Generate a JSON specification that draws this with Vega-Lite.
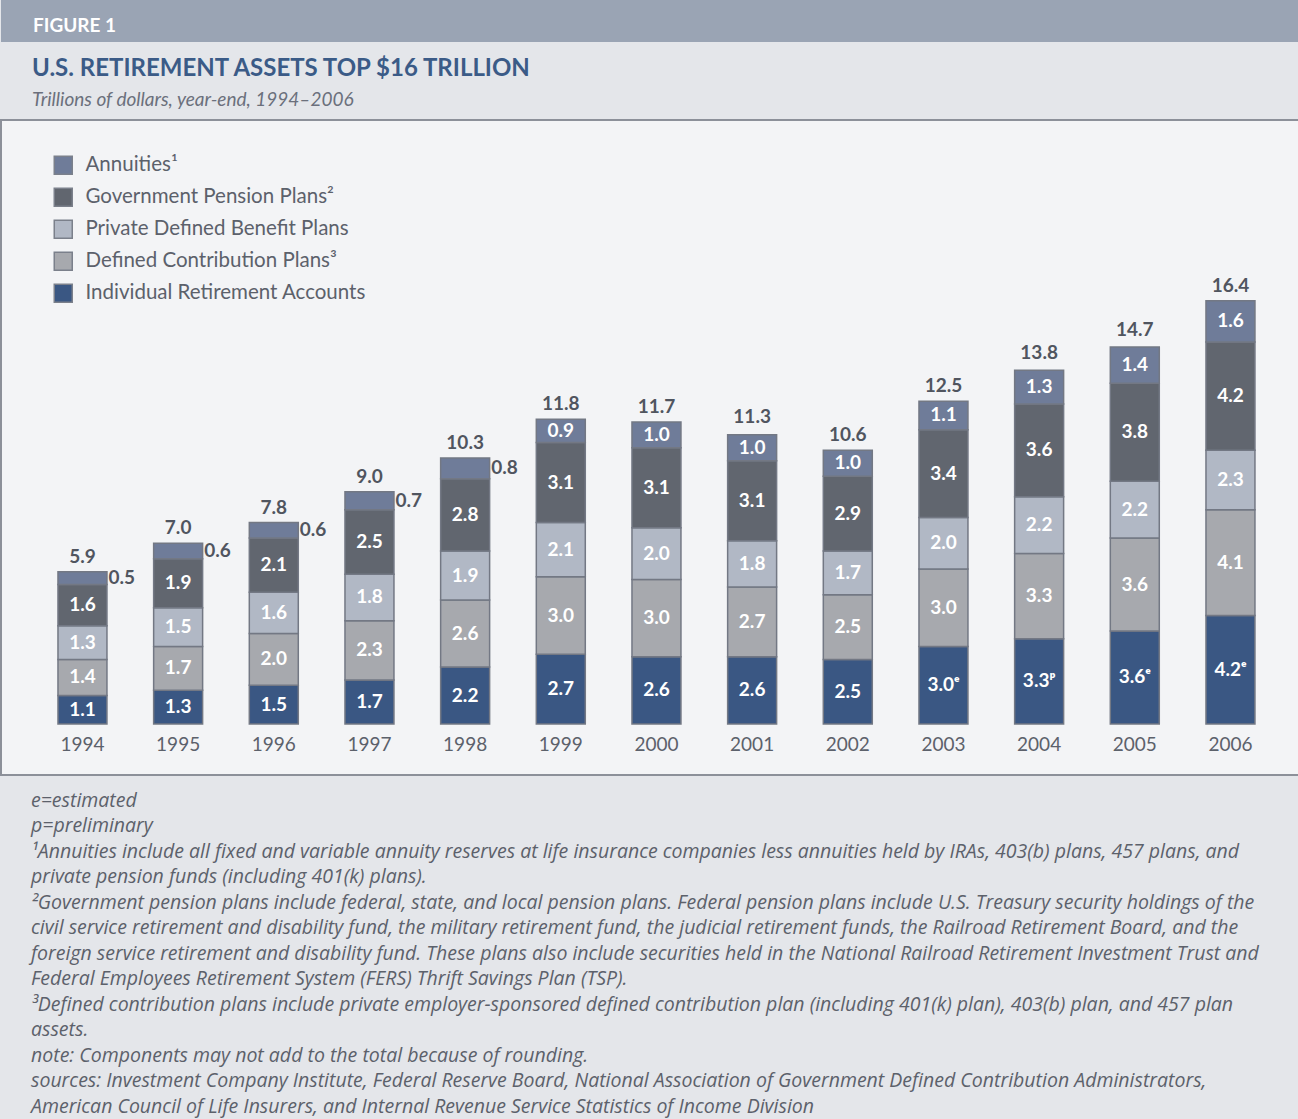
{
  "$schema": "https://vega.github.io/schema/vega-lite/v6.json",
  "background": "#e4e6ea",
  "padding": 0,
  "spacing": 14,
  "config": {"font": "Lato", "view": {"stroke": null}},
  "datasets": {
    "segments": [
      {"year": "1994", "series": "Individual Retirement Accounts", "order": 1, "value": 1.1, "label": "1.1"},
      {"year": "1994", "series": "Defined Contribution Plans³", "order": 2, "value": 1.4, "label": "1.4"},
      {"year": "1994", "series": "Private Defined Benefit Plans", "order": 3, "value": 1.3, "label": "1.3"},
      {"year": "1994", "series": "Government Pension Plans²", "order": 4, "value": 1.6, "label": "1.6"},
      {"year": "1994", "series": "Annuities¹", "order": 5, "value": 0.5, "label": "0.5"},
      {"year": "1995", "series": "Individual Retirement Accounts", "order": 1, "value": 1.3, "label": "1.3"},
      {"year": "1995", "series": "Defined Contribution Plans³", "order": 2, "value": 1.7, "label": "1.7"},
      {"year": "1995", "series": "Private Defined Benefit Plans", "order": 3, "value": 1.5, "label": "1.5"},
      {"year": "1995", "series": "Government Pension Plans²", "order": 4, "value": 1.9, "label": "1.9"},
      {"year": "1995", "series": "Annuities¹", "order": 5, "value": 0.6, "label": "0.6"},
      {"year": "1996", "series": "Individual Retirement Accounts", "order": 1, "value": 1.5, "label": "1.5"},
      {"year": "1996", "series": "Defined Contribution Plans³", "order": 2, "value": 2.0, "label": "2.0"},
      {"year": "1996", "series": "Private Defined Benefit Plans", "order": 3, "value": 1.6, "label": "1.6"},
      {"year": "1996", "series": "Government Pension Plans²", "order": 4, "value": 2.1, "label": "2.1"},
      {"year": "1996", "series": "Annuities¹", "order": 5, "value": 0.6, "label": "0.6"},
      {"year": "1997", "series": "Individual Retirement Accounts", "order": 1, "value": 1.7, "label": "1.7"},
      {"year": "1997", "series": "Defined Contribution Plans³", "order": 2, "value": 2.3, "label": "2.3"},
      {"year": "1997", "series": "Private Defined Benefit Plans", "order": 3, "value": 1.8, "label": "1.8"},
      {"year": "1997", "series": "Government Pension Plans²", "order": 4, "value": 2.5, "label": "2.5"},
      {"year": "1997", "series": "Annuities¹", "order": 5, "value": 0.7, "label": "0.7"},
      {"year": "1998", "series": "Individual Retirement Accounts", "order": 1, "value": 2.2, "label": "2.2"},
      {"year": "1998", "series": "Defined Contribution Plans³", "order": 2, "value": 2.6, "label": "2.6"},
      {"year": "1998", "series": "Private Defined Benefit Plans", "order": 3, "value": 1.9, "label": "1.9"},
      {"year": "1998", "series": "Government Pension Plans²", "order": 4, "value": 2.8, "label": "2.8"},
      {"year": "1998", "series": "Annuities¹", "order": 5, "value": 0.8, "label": "0.8"},
      {"year": "1999", "series": "Individual Retirement Accounts", "order": 1, "value": 2.7, "label": "2.7"},
      {"year": "1999", "series": "Defined Contribution Plans³", "order": 2, "value": 3.0, "label": "3.0"},
      {"year": "1999", "series": "Private Defined Benefit Plans", "order": 3, "value": 2.1, "label": "2.1"},
      {"year": "1999", "series": "Government Pension Plans²", "order": 4, "value": 3.1, "label": "3.1"},
      {"year": "1999", "series": "Annuities¹", "order": 5, "value": 0.9, "label": "0.9"},
      {"year": "2000", "series": "Individual Retirement Accounts", "order": 1, "value": 2.6, "label": "2.6"},
      {"year": "2000", "series": "Defined Contribution Plans³", "order": 2, "value": 3.0, "label": "3.0"},
      {"year": "2000", "series": "Private Defined Benefit Plans", "order": 3, "value": 2.0, "label": "2.0"},
      {"year": "2000", "series": "Government Pension Plans²", "order": 4, "value": 3.1, "label": "3.1"},
      {"year": "2000", "series": "Annuities¹", "order": 5, "value": 1.0, "label": "1.0"},
      {"year": "2001", "series": "Individual Retirement Accounts", "order": 1, "value": 2.6, "label": "2.6"},
      {"year": "2001", "series": "Defined Contribution Plans³", "order": 2, "value": 2.7, "label": "2.7"},
      {"year": "2001", "series": "Private Defined Benefit Plans", "order": 3, "value": 1.8, "label": "1.8"},
      {"year": "2001", "series": "Government Pension Plans²", "order": 4, "value": 3.1, "label": "3.1"},
      {"year": "2001", "series": "Annuities¹", "order": 5, "value": 1.0, "label": "1.0"},
      {"year": "2002", "series": "Individual Retirement Accounts", "order": 1, "value": 2.5, "label": "2.5"},
      {"year": "2002", "series": "Defined Contribution Plans³", "order": 2, "value": 2.5, "label": "2.5"},
      {"year": "2002", "series": "Private Defined Benefit Plans", "order": 3, "value": 1.7, "label": "1.7"},
      {"year": "2002", "series": "Government Pension Plans²", "order": 4, "value": 2.9, "label": "2.9"},
      {"year": "2002", "series": "Annuities¹", "order": 5, "value": 1.0, "label": "1.0"},
      {"year": "2003", "series": "Individual Retirement Accounts", "order": 1, "value": 3.0, "label": "3.0ᵉ"},
      {"year": "2003", "series": "Defined Contribution Plans³", "order": 2, "value": 3.0, "label": "3.0"},
      {"year": "2003", "series": "Private Defined Benefit Plans", "order": 3, "value": 2.0, "label": "2.0"},
      {"year": "2003", "series": "Government Pension Plans²", "order": 4, "value": 3.4, "label": "3.4"},
      {"year": "2003", "series": "Annuities¹", "order": 5, "value": 1.1, "label": "1.1"},
      {"year": "2004", "series": "Individual Retirement Accounts", "order": 1, "value": 3.3, "label": "3.3ᵖ"},
      {"year": "2004", "series": "Defined Contribution Plans³", "order": 2, "value": 3.3, "label": "3.3"},
      {"year": "2004", "series": "Private Defined Benefit Plans", "order": 3, "value": 2.2, "label": "2.2"},
      {"year": "2004", "series": "Government Pension Plans²", "order": 4, "value": 3.6, "label": "3.6"},
      {"year": "2004", "series": "Annuities¹", "order": 5, "value": 1.3, "label": "1.3"},
      {"year": "2005", "series": "Individual Retirement Accounts", "order": 1, "value": 3.6, "label": "3.6ᵉ"},
      {"year": "2005", "series": "Defined Contribution Plans³", "order": 2, "value": 3.6, "label": "3.6"},
      {"year": "2005", "series": "Private Defined Benefit Plans", "order": 3, "value": 2.2, "label": "2.2"},
      {"year": "2005", "series": "Government Pension Plans²", "order": 4, "value": 3.8, "label": "3.8"},
      {"year": "2005", "series": "Annuities¹", "order": 5, "value": 1.4, "label": "1.4"},
      {"year": "2006", "series": "Individual Retirement Accounts", "order": 1, "value": 4.2, "label": "4.2ᵉ"},
      {"year": "2006", "series": "Defined Contribution Plans³", "order": 2, "value": 4.1, "label": "4.1"},
      {"year": "2006", "series": "Private Defined Benefit Plans", "order": 3, "value": 2.3, "label": "2.3"},
      {"year": "2006", "series": "Government Pension Plans²", "order": 4, "value": 4.2, "label": "4.2"},
      {"year": "2006", "series": "Annuities¹", "order": 5, "value": 1.6, "label": "1.6"}
    ],
    "totals": [
      {"year": "1994", "total": 5.9},
      {"year": "1995", "total": 7.0},
      {"year": "1996", "total": 7.8},
      {"year": "1997", "total": 9.0},
      {"year": "1998", "total": 10.3},
      {"year": "1999", "total": 11.8},
      {"year": "2000", "total": 11.7},
      {"year": "2001", "total": 11.3},
      {"year": "2002", "total": 10.6},
      {"year": "2003", "total": 12.5},
      {"year": "2004", "total": 13.8},
      {"year": "2005", "total": 14.7},
      {"year": "2006", "total": 16.4}
    ]
  },
  "vconcat": [
    {
      "width": 1298,
      "height": 42,
      "view": {"fill": "#9aa4b4", "stroke": null},
      "data": {"values": []},
      "mark": "rect",
      "encoding": {},
      "title": {
        "text": "FIGURE 1",
        "anchor": "start",
        "dx": 32,
        "offset": -36,
        "font": "Lato",
        "fontSize": 19,
        "fontWeight": "bold",
        "color": "#ffffff"
      }
    },
    {
      "width": 1298,
      "height": 655,
      "view": {"fill": "#f3f4f6", "stroke": "#8c9099", "strokeWidth": 2},
      "title": {
        "text": "U.S. RETIREMENT ASSETS TOP $16 TRILLION",
        "subtitle": "Trillions of dollars, year-end, 1994–2006",
        "anchor": "start",
        "frame": "group",
        "dx": 31,
        "offset": 10,
        "font": "Lato",
        "fontSize": 24,
        "fontWeight": "bold",
        "color": "#3b5b87",
        "subtitleFont": "Lato",
        "subtitleFontSize": 19,
        "subtitleFontStyle": "italic",
        "subtitleColor": "#6b707c",
        "subtitlePadding": 10
      },
      "layer": [
        {
          "data": {"name": "segments"},
          "mark": {"type": "bar", "stroke": "#737884", "strokeWidth": 1.5},
          "encoding": {
            "x": {
              "field": "year",
              "type": "ordinal",
              "scale": {"paddingInner": 0.488, "paddingOuter": 0.528, "align": 0.564},
              "axis": {
                "title": null,
                "orient": "bottom",
                "offset": -51,
                "labelPadding": 11,
                "ticks": false,
                "domain": false,
                "labelAngle": 0,
                "labelFont": "Lato",
                "labelFontSize": 19,
                "labelColor": "#5c616b"
              }
            },
            "y": {
              "field": "value",
              "type": "quantitative",
              "stack": "zero",
              "scale": {"domain": [-1.98, 23.4], "nice": false, "zero": false},
              "axis": null
            },
            "color": {
              "field": "series",
              "type": "nominal",
              "scale": {
                "domain": ["Annuities¹", "Government Pension Plans²", "Private Defined Benefit Plans", "Defined Contribution Plans³", "Individual Retirement Accounts"],
                "range": ["#6f7c99", "#61666f", "#b1b8c5", "#a7a9ae", "#3a5783"]
              },
              "legend": {
                "title": null,
                "orient": "none",
                "legendX": 52,
                "legendY": 155,
                "symbolType": "square",
                "symbolSize": 324,
                "symbolStrokeColor": "#7b808b",
                "symbolStrokeWidth": 1.5,
                "symbolOpacity": 1,
                "labelFont": "Lato",
                "labelFontSize": 20.5,
                "labelColor": "#5c616b",
                "labelOffset": 12,
                "rowPadding": 7,
                "labelLimit": 400
              }
            },
            "order": {"field": "order", "type": "quantitative"}
          }
        },
        {
          "data": {"name": "segments"},
          "transform": [
            {"stack": "value", "groupby": ["year"], "sort": [{"field": "order", "order": "ascending"}], "as": ["v0", "v1"]},
            {"calculate": "(datum.v0 + datum.v1) / 2", "as": "mid"},
            {"filter": "!(datum.order === 5 && toNumber(datum.year) <= 1998)"}
          ],
          "mark": {"type": "text", "font": "Lato", "fontSize": 19, "fontWeight": "bold", "color": "#ffffff", "align": "center", "baseline": "middle"},
          "encoding": {
            "x": {"field": "year", "type": "ordinal"},
            "y": {"field": "mid", "type": "quantitative", "scale": {"domain": [-1.98, 23.4], "nice": false, "zero": false}},
            "text": {"field": "label"}
          }
        },
        {
          "data": {"name": "segments"},
          "transform": [
            {"stack": "value", "groupby": ["year"], "sort": [{"field": "order", "order": "ascending"}], "as": ["v0", "v1"]},
            {"calculate": "(datum.v0 + datum.v1) / 2", "as": "mid"},
            {"filter": "datum.order === 5 && toNumber(datum.year) <= 1998"}
          ],
          "mark": {"type": "text", "font": "Lato", "fontSize": 19, "fontWeight": "bold", "color": "#50555f", "align": "left", "baseline": "middle", "dx": 26},
          "encoding": {
            "x": {"field": "year", "type": "ordinal"},
            "y": {"field": "mid", "type": "quantitative", "scale": {"domain": [-1.98, 23.4], "nice": false, "zero": false}},
            "text": {"field": "label"}
          }
        },
        {
          "data": {"name": "totals"},
          "mark": {"type": "text", "font": "Lato", "fontSize": 19, "fontWeight": "bold", "color": "#50555f", "align": "center", "baseline": "bottom", "dy": -5},
          "encoding": {
            "x": {"field": "year", "type": "ordinal"},
            "y": {"field": "total", "type": "quantitative", "scale": {"domain": [-1.98, 23.4], "nice": false, "zero": false}},
            "text": {"field": "total", "type": "quantitative", "format": ".1f"}
          }
        }
      ]
    },
    {
      "width": 1298,
      "height": 1,
      "view": {"stroke": null},
      "data": {"values": []},
      "mark": "rect",
      "encoding": {},
      "title": {
        "text": [
          "e=estimated",
          "p=preliminary",
          "¹Annuities include all fixed and variable annuity reserves at life insurance companies less annuities held by IRAs, 403(b) plans, 457 plans, and",
          "private pension funds (including 401(k) plans).",
          "²Government pension plans include federal, state, and local pension plans. Federal pension plans include U.S. Treasury security holdings of the",
          "civil service retirement and disability fund, the military retirement fund, the judicial retirement funds, the Railroad Retirement Board, and the",
          "foreign service retirement and disability fund. These plans also include securities held in the National Railroad Retirement Investment Trust and",
          "Federal Employees Retirement System (FERS) Thrift Savings Plan (TSP).",
          "³Defined contribution plans include private employer-sponsored defined contribution plan (including 401(k) plan), 403(b) plan, and 457 plan",
          "assets.",
          "note: Components may not add to the total because of rounding.",
          "sources: Investment Company Institute, Federal Reserve Board, National Association of Government Defined Contribution Administrators,",
          "American Council of Life Insurers, and Internal Revenue Service Statistics of Income Division"
        ],
        "anchor": "start",
        "frame": "group",
        "dx": 30,
        "dy": -4,
        "offset": 0,
        "font": "Open Sans",
        "fontSize": 19.5,
        "fontStyle": "italic",
        "fontWeight": "normal",
        "color": "#5c616b",
        "lineHeight": 25.5
      }
    }
  ]
}
